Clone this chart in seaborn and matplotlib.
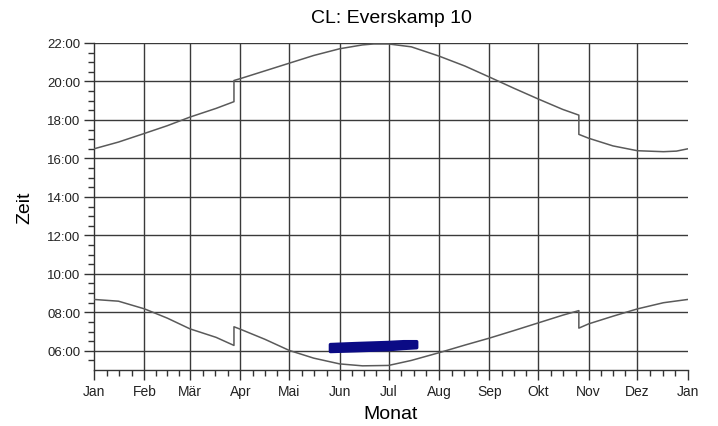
import numpy as np
import matplotlib
matplotlib.use("Agg")
import matplotlib.pyplot as plt
import seaborn as sns

# Tag im Jahr (0 = 1. Jan) und Uhrzeit in Stunden
sunset_day = [0, 15, 31, 45, 59, 75, 86, 86, 90, 105, 120, 135, 151, 165, 172, 181,
              195, 212, 228, 243, 258, 273, 288, 298, 298, 304, 319, 334, 350, 358, 365]
sunset_h = [16.50, 16.85, 17.30, 17.70, 18.15, 18.60, 18.95, 20.05, 20.15, 20.55, 20.95,
            21.35, 21.70, 21.90, 21.95, 21.95, 21.80, 21.32, 20.80, 20.23, 19.65, 19.09,
            18.55, 18.25, 17.25, 17.05, 16.65, 16.40, 16.35, 16.38, 16.50]

sunrise_day = [0, 15, 31, 45, 59, 75, 86, 86, 90, 105, 120, 135, 151, 165, 181,
               195, 212, 228, 243, 258, 273, 288, 298, 298, 304, 319, 334, 350, 365]
sunrise_h = [8.67, 8.58, 8.18, 7.70, 7.14, 6.70, 6.28, 7.25, 7.12, 6.60, 6.02, 5.62, 5.32,
             5.22, 5.24, 5.50, 5.90, 6.30, 6.66, 7.05, 7.45, 7.85, 8.09, 7.18, 7.40, 7.80,
             8.18, 8.50, 8.67]

# Schattenwurf-Zeitraum
shadow_day = [145, 160, 181, 190, 198]
shadow_lo = [5.99, 6.03, 6.09, 6.15, 6.19]
shadow_hi = [6.35, 6.40, 6.46, 6.50, 6.50]

month_start = [0, 31, 59, 90, 120, 151, 181, 212, 243, 273, 304, 334, 365]
month_labels = ["Jan", "Feb", "Mär", "Apr", "Mai", "Jun", "Jul", "Aug", "Sep", "Okt",
                "Nov", "Dez", "Jan"]
hour_ticks = [6, 8, 10, 12, 14, 16, 18, 20, 22]

sns.set_style("white")
plt.rcParams['font.family'] = ['Liberation Sans', 'DejaVu Sans']
plt.rcParams['text.color'] = 'black'
plt.rcParams['axes.labelcolor'] = 'black'
plt.rcParams['xtick.color'] = '#333333'
plt.rcParams['ytick.color'] = '#333333'

fig = plt.figure(figsize=(7.18, 4.27), dpi=100)
ax = fig.add_axes([0.131, 0.131, 0.827, 0.766])

# Gitter
for d in month_start[1:-1]:
    ax.axvline(d, color="#3a3a3a", lw=1.0, zorder=1)
for h in hour_ticks:
    ax.axhline(h, color="#3a3a3a", lw=1.0, zorder=1)

sns.lineplot(x=sunset_day, y=sunset_h, estimator=None, sort=False, ax=ax,
             color="#5a5a5a", lw=1.1, zorder=3)
sns.lineplot(x=sunrise_day, y=sunrise_h, estimator=None, sort=False, ax=ax,
             color="#5a5a5a", lw=1.1, zorder=3)
ax.fill_between(shadow_day, shadow_lo, shadow_hi, color="#0b0b85", lw=2.5,
                edgecolor="#0b0b85", zorder=4)

ax.set_xlim(0, 365)
ax.set_ylim(5, 22)
ax.set_xticks(month_start)
ax.set_xticklabels(month_labels, fontsize=10, color="#222222")
minor_x = []
for a, b in zip(month_start[:-1], month_start[1:]):
    minor_x += [a + (b - a) * k / 4 for k in (1, 2, 3)]
ax.set_xticks(minor_x, minor=True)
ax.set_yticks(hour_ticks)
ax.set_yticklabels(["%02d:00" % h for h in hour_ticks], fontsize=9.5, color="#222222")
ax.set_yticks(np.arange(5.5, 22, 0.5), minor=True)
ax.tick_params(axis="both", which="major", direction="out", length=7, width=1, pad=3)
ax.tick_params(axis="both", which="minor", direction="out", length=4, width=1)
ax.tick_params(axis="x", which="both", bottom=True)
ax.tick_params(axis="y", which="both", left=True)

for s in ["top", "right"]:
    ax.spines[s].set_visible(False)
for s in ["left", "bottom"]:
    ax.spines[s].set_color("#333333")
    ax.spines[s].set_linewidth(1.0)

ax.set_title("CL: Everskamp 10", fontsize=14, pad=15)
ax.set_xlabel("Monat", fontsize=14, labelpad=5)
ax.set_ylabel("Zeit", fontsize=14, labelpad=10)

fig.savefig("out.png", dpi=100, facecolor="white")
